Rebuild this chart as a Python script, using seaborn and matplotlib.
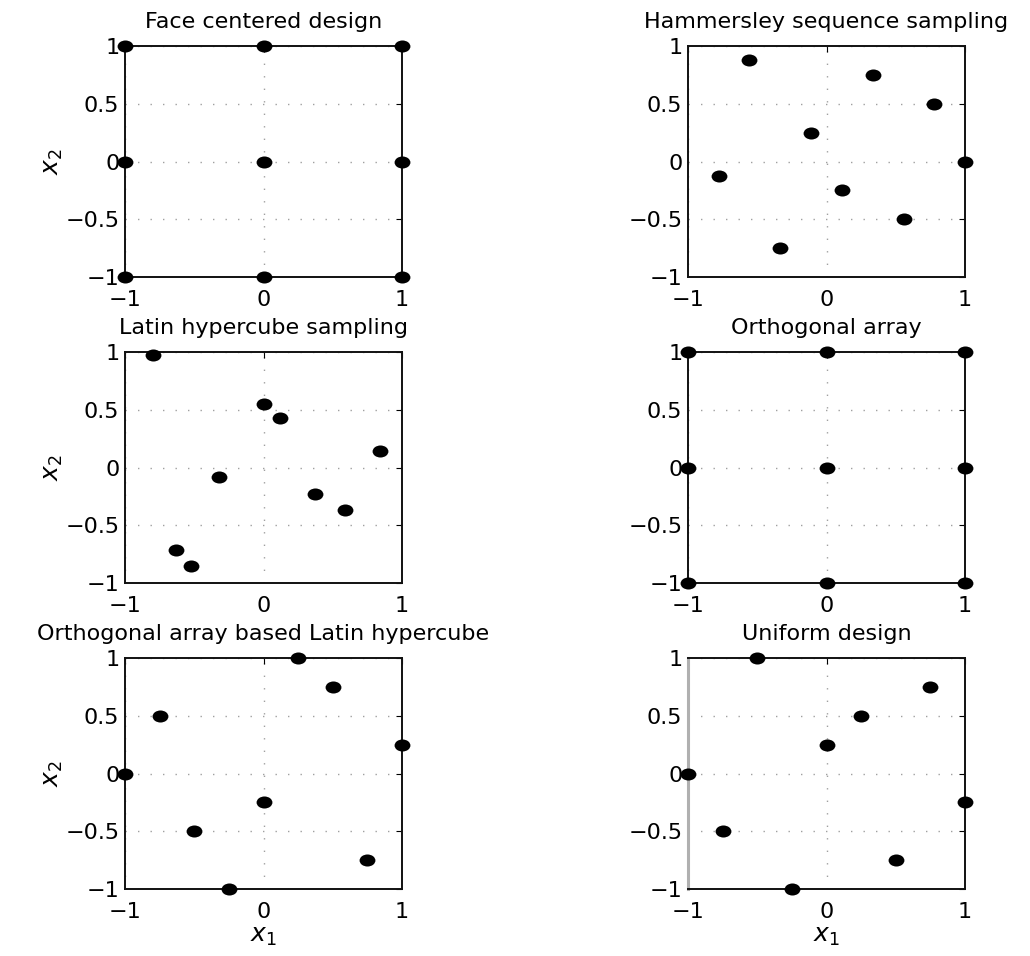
import matplotlib
matplotlib.use("Agg")
import matplotlib.pyplot as plt
from matplotlib.path import Path
from matplotlib.transforms import Affine2D
import seaborn as sns

# Design points in the coded space [-1, 1]^2
fcd_x = [-1, 0, 1, -1, 0, 1, -1, 0, 1]
fcd_y = [1, 1, 1, 0, 0, 0, -1, -1, -1]

hss_x = [-0.556, 0.333, 0.778, -0.111, 1.0, -0.778, 0.111, 0.556, -0.333]
hss_y = [0.875, 0.75, 0.5, 0.25, 0.0, -0.125, -0.25, -0.5, -0.75]

lhs_x = [-0.795, 0.0, 0.116, 0.839, -0.32, 0.373, 0.590, -0.631, -0.523]
lhs_y = [0.975, 0.551, 0.427, 0.139, -0.084, -0.231, -0.367, -0.713, -0.851]

oa_x = [-1, 0, 1, -1, 0, 1, -1, 0, 1]
oa_y = [1, 1, 1, 0, 0, 0, -1, -1, -1]

oalh_x = [0.25, 0.5, -0.75, 1.0, -1.0, 0.0, -0.5, 0.75, -0.25]
oalh_y = [1.0, 0.75, 0.5, 0.25, 0.0, -0.25, -0.5, -0.75, -1.0]

ud_x = [-0.5, 0.75, 0.25, 0.0, -1.0, 1.0, -0.75, 0.5, -0.25]
ud_y = [1.0, 0.75, 0.5, 0.25, 0.0, -0.25, -0.5, -0.75, -1.0]

titles = ["Face centered design", "Hammersley sequence sampling",
          "Latin hypercube sampling", "Orthogonal array",
          "Orthogonal array based Latin hypercube", "Uniform design"]
designs = [(fcd_x, fcd_y), (hss_x, hss_y), (lhs_x, lhs_y),
           (oa_x, oa_y), (oalh_x, oalh_y), (ud_x, ud_y)]
x_ticks = [-1, 0, 1]
y_ticks = [-1, -0.5, 0, 0.5, 1]
x_ticklabels = ["\u22121", "0", "1"]
y_ticklabels = ["\u22121", "\u22120.5", "0", "0.5", "1"]

sns.set_theme(style="white")
plt.rcParams["font.family"] = ["DejaVu Sans"]
plt.rcParams["mathtext.fontset"] = "dejavusans"

# slightly flattened dot
dot = Path.unit_circle().transformed(Affine2D().scale(1.0, 0.76))

fig = plt.figure(figsize=(10.30, 9.56), dpi=100)
W, H = 1030, 956
col_left = [125, 688]
row_top = [46, 352, 658]
ax_w, ax_h = 277, 231

fs = 16
for i, ((xs, ys), title) in enumerate(zip(designs, titles)):
    r, c = divmod(i, 2)
    left = col_left[c] / W
    bottom = 1 - (row_top[r] + ax_h) / H
    ax = fig.add_axes([left, bottom, ax_w / W, ax_h / H])
    sns.scatterplot(x=xs, y=ys, ax=ax, marker=dot, s=130, color="black",
                    edgecolor="black", linewidth=0, clip_on=False, zorder=5)
    ax.set_xlim(-1, 1)
    ax.set_ylim(-1, 1)
    ax.set_xticks(x_ticks)
    ax.set_xticklabels(x_ticklabels)
    ax.set_yticks(y_ticks)
    ax.set_yticklabels(y_ticklabels)
    ax.tick_params(axis="both", direction="in", length=4, width=0.8,
                   colors="black", labelsize=fs, top=True, right=True)
    ax.tick_params(axis="x", pad=9)
    ax.tick_params(axis="y", pad=4)
    ax.grid(True, linestyle=(0, (1, 8)), color="#a0a0a0", linewidth=1.0)
    for sp in ax.spines.values():
        sp.set_color("#111111")
        sp.set_linewidth(1.4)
        sp.set_visible(True)
    if c == 1 and r == 2:
        ax.spines["left"].set_color("#b0b0b0")
        ax.spines["left"].set_linewidth(2.2)
    ax.set_title(title, fontsize=fs, pad=13, color="black")
    if c == 0:
        ax.set_ylabel("$x_2$", fontsize=fs + 2, labelpad=0, color="black")
    if r == 2:
        ax.set_xlabel("$x_1$", fontsize=fs + 2, labelpad=2, color="black")

fig.savefig("out.png", dpi=100, facecolor="white")
